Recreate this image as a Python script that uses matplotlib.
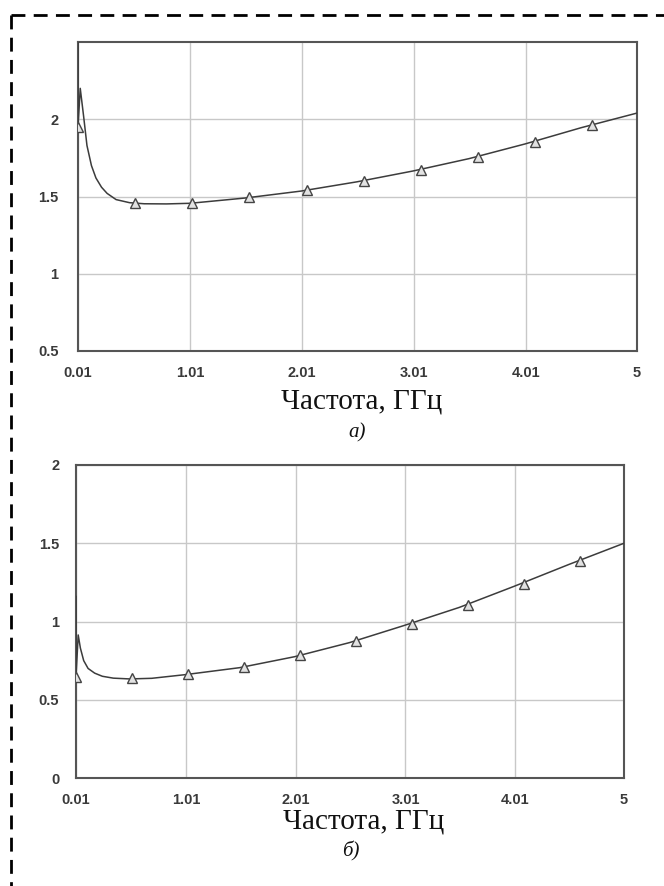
import matplotlib
matplotlib.use("Agg")
import matplotlib.pyplot as plt
from matplotlib.lines import Line2D

# ---- data -------------------------------------------------------------
# panel а)
a_curve_f = [0.01, 0.01, 0.03, 0.06, 0.09, 0.13, 0.17, 0.22, 0.27, 0.35, 0.47,
             0.60, 0.80, 1.01, 1.50, 2.00, 2.50, 3.00, 3.50, 4.00, 4.50, 5.00]
a_curve_v = [2.70, 1.95, 2.20, 2.02, 1.83, 1.70, 1.62, 1.56, 1.52, 1.48, 1.46,
             1.453, 1.452, 1.456, 1.49, 1.535, 1.595, 1.665, 1.745, 1.84, 1.945, 2.04]
a_mark_f = [0.01, 0.52, 1.03, 1.54, 2.05, 2.56, 3.07, 3.58, 4.09, 4.60]
a_mark_v = [1.95, 1.455, 1.46, 1.495, 1.54, 1.60, 1.67, 1.755, 1.85, 1.96]

# panel б)
b_curve_f = [0.01, 0.01, 0.03, 0.05, 0.08, 0.12, 0.18, 0.25, 0.35, 0.50,
             0.70, 1.00, 1.50, 2.00, 2.50, 3.00, 3.50, 4.00, 4.50, 5.00]
b_curve_v = [1.16, 0.645, 0.914, 0.83, 0.75, 0.70, 0.67, 0.65, 0.638, 0.633,
             0.637, 0.66, 0.705, 0.775, 0.865, 0.975, 1.09, 1.225, 1.365, 1.50]
b_mark_f = [0.01, 0.52, 1.03, 1.54, 2.05, 2.56, 3.07, 3.58, 4.09, 4.60]
b_mark_v = [0.645, 0.636, 0.665, 0.71, 0.786, 0.875, 0.984, 1.105, 1.24, 1.387]

x_ticks = [0.01, 1.01, 2.01, 3.01, 4.01, 5]
x_ticklabels = ["0.01", "1.01", "2.01", "3.01", "4.01", "5"]
a_yticks = [0.5, 1, 1.5, 2]
a_yticklabels = ["0.5", "1", "1.5", "2"]
b_yticks = [0, 0.5, 1, 1.5, 2]
b_yticklabels = ["0", "0.5", "1", "1.5", "2"]

xlabel_text = "Частота, ГГц"
panel_labels = ["а)", "б)"]

# ---- figure -----------------------------------------------------------
W, H = 664, 886
fig = plt.figure(figsize=(W / 100, H / 100), dpi=100)


def px_axes(left, top, right, bottom):
    return fig.add_axes([left / W, 1 - bottom / H, (right - left) / W, (bottom - top) / H])


def fig_text(x, y, s, **kw):
    fig.text(x / W, 1 - y / H, s, ha="center", va="center", **kw)


def style_panel(ax, cf, cv, mf, mv, ylim, yticks, yticklabels, ypad):
    ax.set_xlim(0.01, 5)
    ax.set_ylim(*ylim)
    ax.grid(True, color="#c8c8c8", linewidth=1.0)
    ax.set_axisbelow(True)
    ax.set_xticks(x_ticks)
    ax.set_xticklabels(x_ticklabels)
    ax.set_yticks(yticks)
    ax.set_yticklabels(yticklabels)
    for sp in ax.spines.values():
        sp.set_color("#555555")
        sp.set_linewidth(1.5)
    ax.tick_params(axis="both", length=0, labelsize=10.5, labelcolor="#3a3a3a")
    ax.tick_params(axis="x", pad=11)
    ax.tick_params(axis="y", pad=ypad)
    for t in ax.get_xticklabels() + ax.get_yticklabels():
        t.set_fontweight("bold")
        t.set_family("Liberation Sans")
    ax.plot(cf, cv, color="#3c3c3c", linewidth=1.1, zorder=3)
    ax.plot(mf, mv, linestyle="none", marker="^", markersize=7,
            markerfacecolor="#e2e2e2", markeredgecolor="#444444",
            markeredgewidth=1.0, zorder=4)


ax_a = px_axes(78, 42, 637, 351)
style_panel(ax_a, a_curve_f, a_curve_v, a_mark_f, a_mark_v, (0.5, 2.5),
            a_yticks, a_yticklabels, 14)
ax_b = px_axes(76, 465, 624, 778)
style_panel(ax_b, b_curve_f, b_curve_v, b_mark_f, b_mark_v, (0, 2),
            b_yticks, b_yticklabels, 12)

serif = dict(family="Liberation Serif", color="#111111")
fig_text(362, 401, xlabel_text, fontsize=21, **serif)
fig_text(357, 433, panel_labels[0], fontsize=15, style="italic", **serif)
fig_text(364, 822, xlabel_text, fontsize=21, **serif)
fig_text(351, 851, panel_labels[1], fontsize=15, style="italic", **serif)

# dashed frame around both panels
dash = dict(color="black", linewidth=2, linestyle=(0, (5, 3)))
fig.add_artist(Line2D([11 / W, 1.0], [1 - 15 / H, 1 - 15 / H], transform=fig.transFigure, **dash))
fig.add_artist(Line2D([11 / W, 11 / W], [1 - 15 / H, 0.0], transform=fig.transFigure, **dash))

fig.savefig("out.png", dpi=100)
